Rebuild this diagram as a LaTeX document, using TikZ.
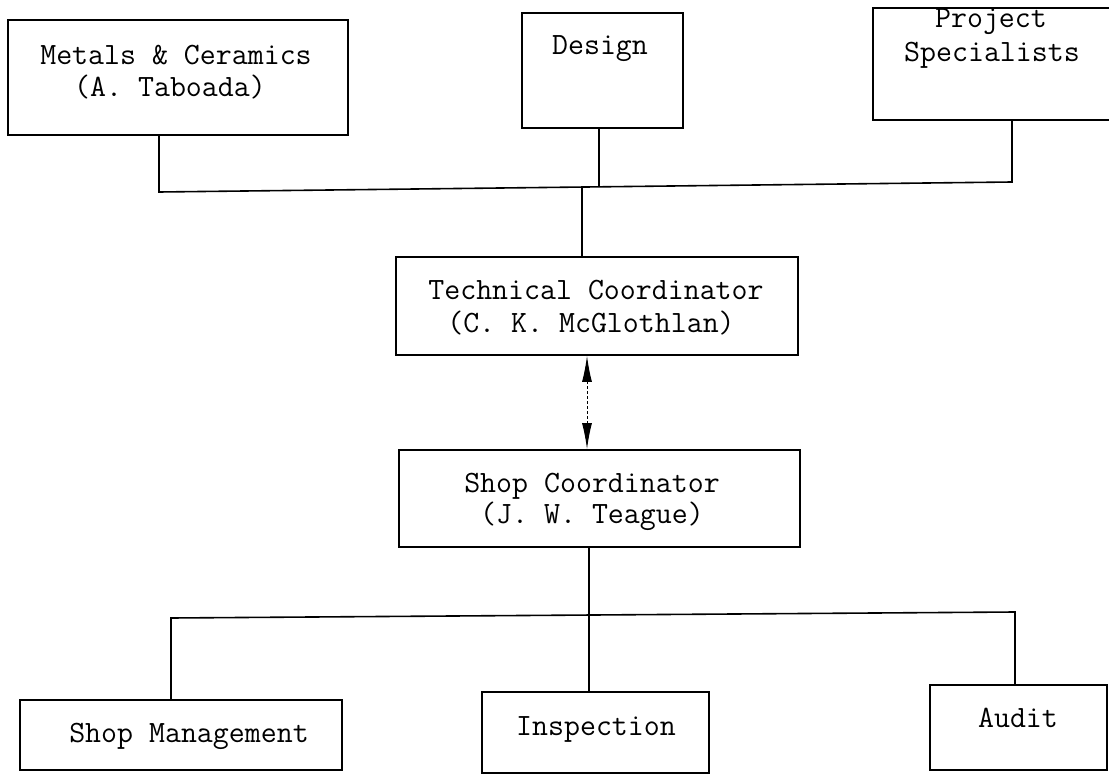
\documentclass[tikz,border=0pt]{standalone}
\usetikzlibrary{arrows.meta}
\begin{document}
\begin{tikzpicture}[x=1pt,y=-1pt,
  box/.style={draw, line width=1.8pt, inner sep=0pt},
  lbl/.style={font=\ttfamily\fontsize{31}{32}\selectfont, anchor=base, inner sep=0pt},
  wire/.style={line width=1.6pt},
  link/.style={line width=1pt, densely dashed, {Latex[length=26pt,width=10pt]}-{Latex[length=26pt,width=10pt]}}]
\useasboundingbox (0,0) rectangle (1109,781);
% boxes
\node[box, minimum width=340pt, minimum height=115pt] (metals) at (178,77.5) {};
\node[box, minimum width=161pt, minimum height=115pt] (design) at (602.5,70.5) {};
\node[box, minimum width=239pt, minimum height=112pt] (proj) at (992.5,64) {};
\node[box, minimum width=402pt, minimum height=98pt] (tech) at (597,306) {};
\node[box, minimum width=401pt, minimum height=97pt] (shop) at (599.5,498.5) {};
\node[box, minimum width=322pt, minimum height=70pt] (mgmt) at (181,735) {};
\node[box, minimum width=227pt, minimum height=81pt] (insp) at (595.5,732.5) {};
\node[box, minimum width=177pt, minimum height=85pt] (audit) at (1018.5,727.5) {};
% labels
\node[lbl] (metalsA) at (176,65) {Metals \& Ceramics};
\node[lbl] (metalsB) at (170,97) {(A. Taboada)};
\node[lbl] (designA) at (600,55) {Design};
\node[lbl] (projA) at (991,28) {Project};
\node[lbl] (projB) at (992,62) {Specialists};
\node[lbl] (techA) at (596,299) {Technical Coordinator};
\node[lbl] (techB) at (591,332) {(C. K. McGlothlan)};
\node[lbl] (shopA) at (592,492) {Shop Coordinator};
\node[lbl] (shopB) at (592,523) {(J. W. Teague)};
\node[lbl] (mgmtA) at (189,742) {Shop Management};
\node[lbl] (inspA) at (596,735) {Inspection};
\node[lbl] (auditA) at (1018,727) {Audit};
% connector points
\coordinate (tl) at (159,192);
\coordinate (tr) at (1012,182);
\coordinate (tdes) at (599,187);
\coordinate (ttech) at (582,187);
\coordinate (ax) at (587,400);
\coordinate (bl) at (171,618);
\coordinate (br) at (1015,612);
\coordinate (bm) at (589,615);
% connectors
\draw[wire] (metals.south -| tl) -- (tl) -- (tr) -- (proj.south -| tr);
\draw[wire] (design.south -| tdes) -- (tdes);
\draw[wire] (ttech) -- (tech.north -| ttech);
\draw[link] (tech.south -| ax) -- (shop.north -| ax);
\draw[wire] (mgmt.north -| bl) -- (bl) -- (br) -- (audit.north -| br);
\draw[wire] (shop.south -| bm) -- (insp.north -| bm);
\end{tikzpicture}
\end{document}
